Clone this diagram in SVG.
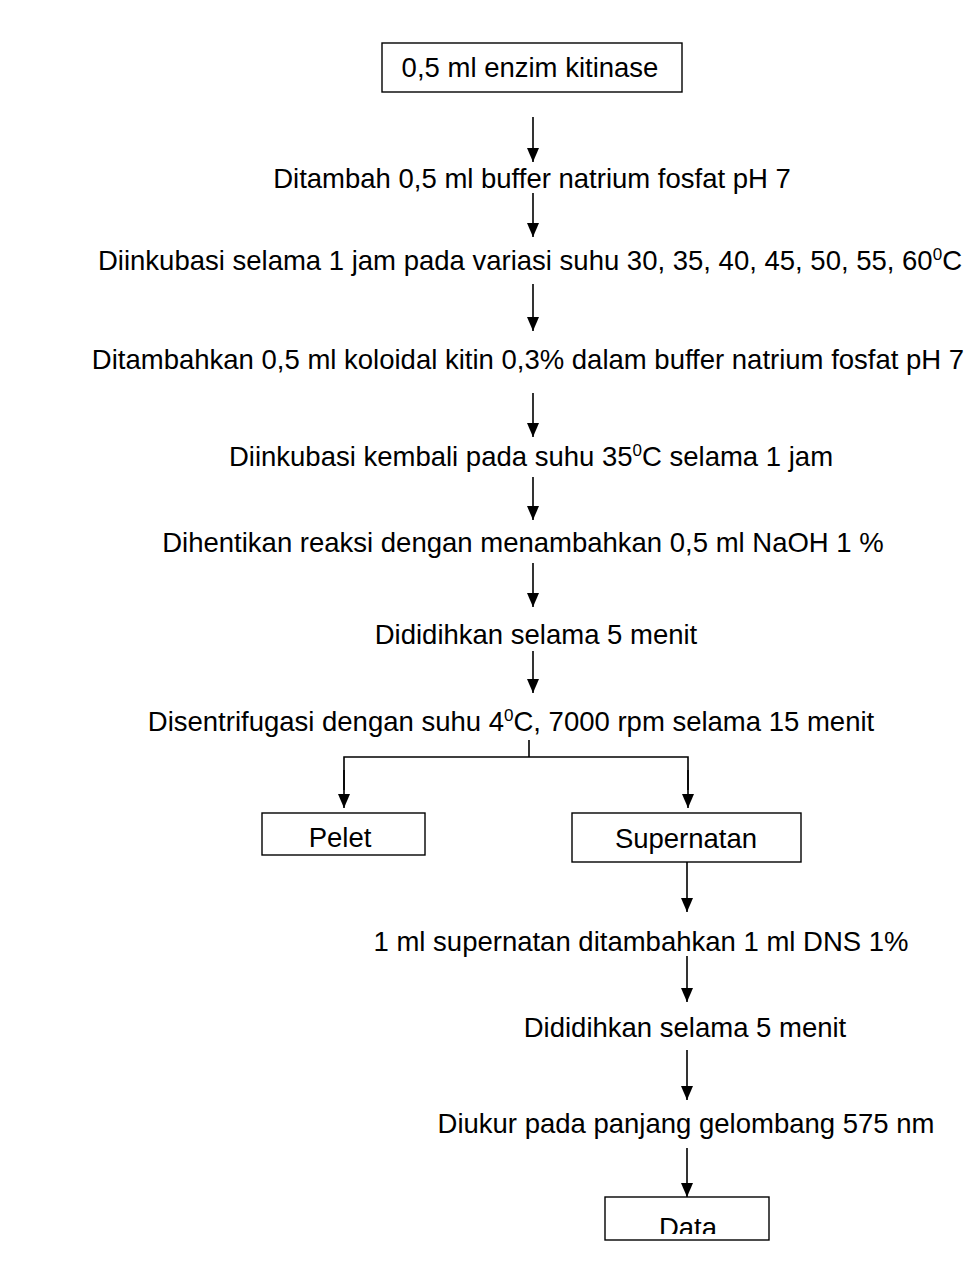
<svg xmlns="http://www.w3.org/2000/svg" width="972" height="1262" viewBox="0 0 972 1262">
  <style>
    .t { font-family: "Liberation Sans", Arial, sans-serif; font-size: 27.5px; fill: #000; text-anchor: middle; }
    .sup { font-size: 17px; }
    .box { fill: #fff; stroke: #000; stroke-width: 1.4; }
    .ln { fill: none; stroke: #000; stroke-width: 1.6; }
  </style>
  <defs>
    <marker id="ah" viewBox="0 0 14 12" refX="14" refY="6" markerWidth="14" markerHeight="12" markerUnits="userSpaceOnUse" orient="auto">
      <path d="M0,0 L14,6 L0,12 Z" fill="#000"/>
    </marker>
    <clipPath id="dataclip"><rect x="605" y="1197" width="164" height="37"/></clipPath>
  </defs>

  <rect width="972" height="1262" fill="#fff"/>

  <!-- connectors -->
  <g id="connectors">
    <line class="ln" x1="533" y1="117" x2="533" y2="162" marker-end="url(#ah)"/>
    <line class="ln" x1="533" y1="193" x2="533" y2="237" marker-end="url(#ah)"/>
    <line class="ln" x1="533" y1="284" x2="533" y2="331" marker-end="url(#ah)"/>
    <line class="ln" x1="533" y1="393" x2="533" y2="437" marker-end="url(#ah)"/>
    <line class="ln" x1="533" y1="477" x2="533" y2="520" marker-end="url(#ah)"/>
    <line class="ln" x1="533" y1="563" x2="533" y2="607" marker-end="url(#ah)"/>
    <line class="ln" x1="533" y1="651" x2="533" y2="693" marker-end="url(#ah)"/>
    <line class="ln" x1="529" y1="740" x2="529" y2="757"/>
    <polyline class="ln" points="344,790 344,757 688,757 688,790"/>
    <line class="ln" x1="344" y1="770" x2="344" y2="808" marker-end="url(#ah)"/>
    <line class="ln" x1="688" y1="770" x2="688" y2="808" marker-end="url(#ah)"/>
    <line class="ln" x1="687" y1="862" x2="687" y2="912" marker-end="url(#ah)"/>
    <line class="ln" x1="687" y1="956" x2="687" y2="1002" marker-end="url(#ah)"/>
    <line class="ln" x1="687" y1="1050" x2="687" y2="1100" marker-end="url(#ah)"/>
    <line class="ln" x1="687" y1="1148" x2="687" y2="1197" marker-end="url(#ah)"/>
  </g>

  <!-- nodes -->
  <g id="n-enzim">
    <rect class="box" x="382" y="43" width="300" height="49"/>
    <text class="t" x="530" y="77">0,5 ml enzim kitinase</text>
  </g>
  <g id="n-buffer">
    <text class="t" x="532" y="188">Ditambah 0,5 ml buffer natrium fosfat pH 7</text>
  </g>
  <g id="n-inkubasi1">
    <text class="t" x="530" y="270">Diinkubasi selama 1 jam pada variasi suhu 30, 35, 40, 45, 50, 55, 60<tspan class="sup" dy="-10">0</tspan><tspan dy="10">C</tspan></text>
  </g>
  <g id="n-koloidal">
    <text class="t" x="528" y="369">Ditambahkan 0,5 ml koloidal kitin 0,3% dalam buffer natrium fosfat pH 7</text>
  </g>
  <g id="n-inkubasi2">
    <text class="t" x="531" y="466">Diinkubasi kembali pada suhu 35<tspan class="sup" dy="-10">0</tspan><tspan dy="10">C selama 1 jam</tspan></text>
  </g>
  <g id="n-naoh">
    <text class="t" x="523" y="552">Dihentikan reaksi dengan menambahkan 0,5 ml NaOH 1 %</text>
  </g>
  <g id="n-didih1">
    <text class="t" x="536" y="644">Dididihkan selama 5 menit</text>
  </g>
  <g id="n-sentrifugasi">
    <text class="t" x="511" y="731">Disentrifugasi dengan suhu 4<tspan class="sup" dy="-10">0</tspan><tspan dy="10">C, 7000 rpm selama 15 menit</tspan></text>
  </g>
  <g id="n-pelet">
    <rect class="box" x="262" y="813" width="163" height="42"/>
    <text class="t" x="340" y="847">Pelet</text>
  </g>
  <g id="n-supernatan">
    <rect class="box" x="572" y="813" width="229" height="49"/>
    <text class="t" x="686" y="848">Supernatan</text>
  </g>
  <g id="n-dns">
    <text class="t" x="641" y="951">1 ml supernatan ditambahkan 1 ml DNS 1%</text>
  </g>
  <g id="n-didih2">
    <text class="t" x="685" y="1037">Dididihkan selama 5 menit</text>
  </g>
  <g id="n-ukur">
    <text class="t" x="686" y="1133">Diukur pada panjang gelombang 575 nm</text>
  </g>
  <g id="n-data">
    <rect class="box" x="605" y="1197" width="164" height="43"/>
    <text class="t" x="688" y="1237" clip-path="url(#dataclip)">Data</text>
  </g>
</svg>
